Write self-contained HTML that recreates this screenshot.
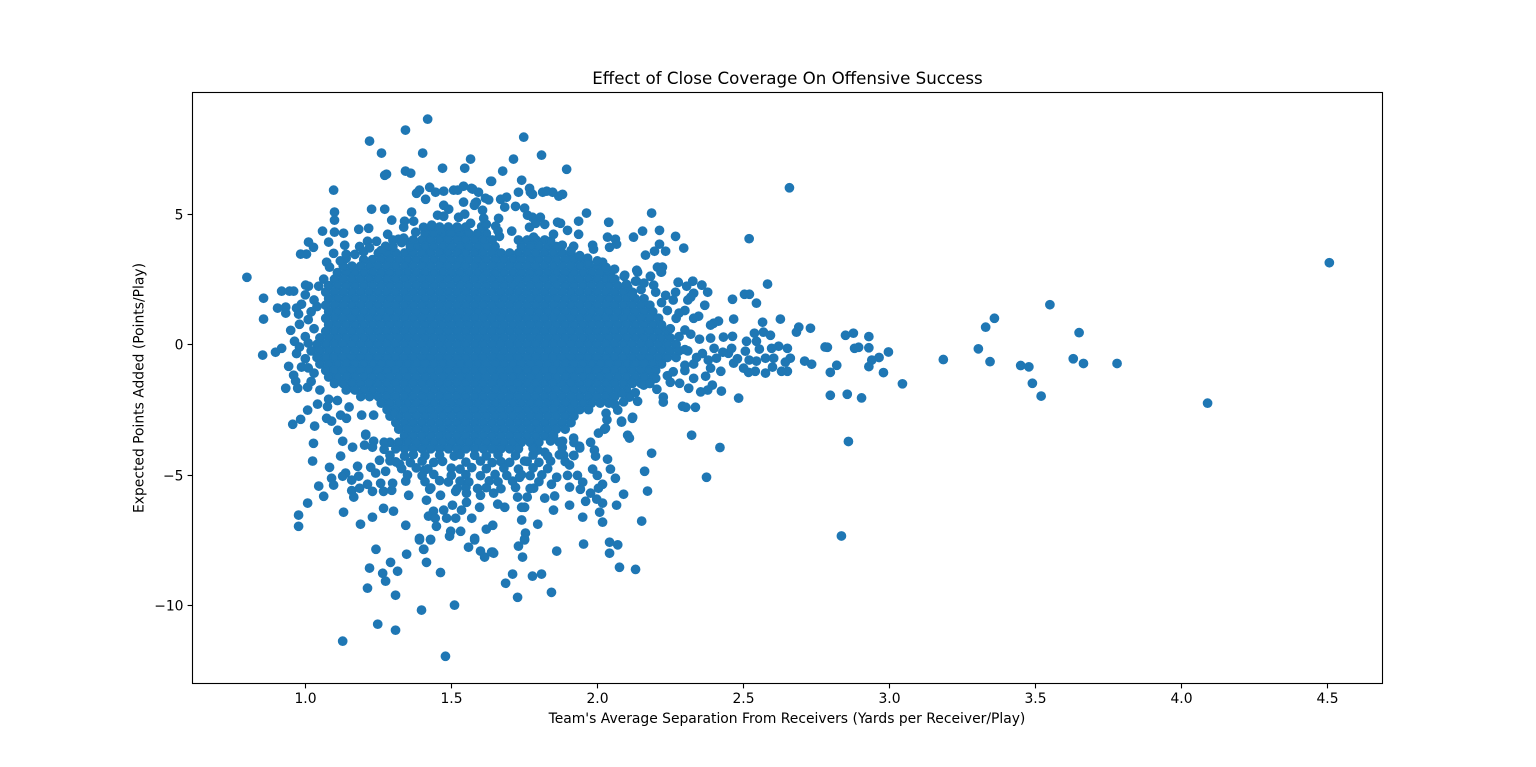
<!DOCTYPE html>
<html lang="en">
<head>
<meta charset="utf-8">
<title>Effect of Close Coverage On Offensive Success</title>
<style>
html,body{margin:0;padding:0;background:#fff;width:1536px;height:767px;overflow:hidden}
svg{display:block}
text{font-family:"DejaVu Sans","Liberation Sans",sans-serif;fill:#000}
</style>
</head>
<body>
<svg id="chart" width="1536" height="767" viewBox="0 0 1536 767" xmlns="http://www.w3.org/2000/svg">
<rect x="0" y="0" width="1536" height="767" fill="#fff"/>
<rect x="192.5" y="92.5" width="1190" height="591" fill="#fff"/>
<g id="points"></g>
<rect x="192.5" y="92.5" width="1190" height="591" fill="none" stroke="#000" stroke-width="1.11"/>
<g id="xticks"></g>
<g id="yticks"></g>
<text x="787.5" y="84" font-size="16.67" text-anchor="middle">Effect of Close Coverage On Offensive Success</text>
<text x="787" y="723" font-size="13.89" text-anchor="middle">Team's Average Separation From Receivers (Yards per Receiver/Play)</text>
<text transform="translate(143.5,388) rotate(-90)" font-size="13.89" text-anchor="middle">Expected Points Added (Points/Play)</text>
</svg>
<script>
const xTickValues = [1.0, 1.5, 2.0, 2.5, 3.0, 3.5, 4.0, 4.5];
const xTickLabels = ["1.0", "1.5", "2.0", "2.5", "3.0", "3.5", "4.0", "4.5"];
const yTickValues = [5, 0, -5, -10];
const yTickLabels = ["5", "0", "\u22125", "\u221210"];

const coreRowY = [4.5,4.25,4,3.75,3.5,3.25,3,2.75,2.5,2.25,2,1.75,1.5,1.25,1,0.75,0.5,0.25,0,-0.25,-0.5,-0.75,-1,-1.25,-1.5,-1.75,-2,-2.25,-2.5,-2.75,-3,-3.25,-3.5,-3.75,-4];
const coreRowX = [
[1.43,1.46,1.49,1.52,1.55],
[1.41,1.44,1.47,1.5,1.53,1.56,1.59,1.62],
[1.34,1.37,1.4,1.43,1.46,1.49,1.52,1.55,1.58,1.61,1.64,1.73,1.76,1.79,1.82],
[1.38,1.41,1.44,1.47,1.5,1.53,1.56,1.59,1.62,1.65,1.74,1.77,1.8,1.83,1.86],
[1.25,1.28,1.31,1.34,1.37,1.4,1.43,1.46,1.49,1.52,1.55,1.58,1.61,1.64,1.67,1.7,1.73,1.76,1.79,1.82,1.85,1.88,1.91],
[1.2,1.23,1.26,1.29,1.32,1.35,1.38,1.41,1.44,1.47,1.5,1.53,1.56,1.59,1.62,1.65,1.68,1.71,1.74,1.77,1.8,1.83,1.86,1.89,1.92,1.95],
[1.16,1.19,1.22,1.25,1.28,1.31,1.34,1.37,1.4,1.43,1.46,1.49,1.52,1.55,1.58,1.61,1.64,1.67,1.7,1.73,1.76,1.79,1.82,1.85,1.88,1.91,1.94,1.97,2],
[1.11,1.14,1.17,1.2,1.23,1.26,1.29,1.32,1.35,1.38,1.41,1.44,1.47,1.5,1.53,1.56,1.59,1.62,1.65,1.68,1.71,1.74,1.77,1.8,1.83,1.86,1.89,1.92,1.95,1.98,2.01,2.04],
[1.1,1.13,1.16,1.19,1.22,1.25,1.28,1.31,1.34,1.37,1.4,1.43,1.46,1.49,1.52,1.55,1.58,1.61,1.64,1.67,1.7,1.73,1.76,1.79,1.82,1.85,1.88,1.91,1.94,1.97,2,2.03,2.06],
[1.08,1.11,1.14,1.17,1.2,1.23,1.26,1.29,1.32,1.35,1.38,1.41,1.44,1.47,1.5,1.53,1.56,1.59,1.62,1.65,1.68,1.71,1.74,1.77,1.8,1.83,1.86,1.89,1.92,1.95,1.98,2.01,2.04,2.07,2.1],
[1.07,1.1,1.13,1.16,1.19,1.22,1.25,1.28,1.31,1.34,1.37,1.4,1.43,1.46,1.49,1.52,1.55,1.58,1.61,1.64,1.67,1.7,1.73,1.76,1.79,1.82,1.85,1.88,1.91,1.94,1.97,2,2.03,2.06,2.09,2.12],
[1.08,1.11,1.14,1.17,1.2,1.23,1.26,1.29,1.32,1.35,1.38,1.41,1.44,1.47,1.5,1.53,1.56,1.59,1.62,1.65,1.68,1.71,1.74,1.77,1.8,1.83,1.86,1.89,1.92,1.95,1.98,2.01,2.04,2.07,2.1,2.13,2.16],
[1.07,1.1,1.13,1.16,1.19,1.22,1.25,1.28,1.31,1.34,1.37,1.4,1.43,1.46,1.49,1.52,1.55,1.58,1.61,1.64,1.67,1.7,1.73,1.76,1.79,1.82,1.85,1.88,1.91,1.94,1.97,2,2.03,2.06,2.09,2.12,2.15,2.18],
[1.08,1.11,1.14,1.17,1.2,1.23,1.26,1.29,1.32,1.35,1.38,1.41,1.44,1.47,1.5,1.53,1.56,1.59,1.62,1.65,1.68,1.71,1.74,1.77,1.8,1.83,1.86,1.89,1.92,1.95,1.98,2.01,2.04,2.07,2.1,2.13,2.16,2.19],
[1.07,1.1,1.13,1.16,1.19,1.22,1.25,1.28,1.31,1.34,1.37,1.4,1.43,1.46,1.49,1.52,1.55,1.58,1.61,1.64,1.67,1.7,1.73,1.76,1.79,1.82,1.85,1.88,1.91,1.94,1.97,2,2.03,2.06,2.09,2.12,2.15,2.18,2.21],
[1.08,1.11,1.14,1.17,1.2,1.23,1.26,1.29,1.32,1.35,1.38,1.41,1.44,1.47,1.5,1.53,1.56,1.59,1.62,1.65,1.68,1.71,1.74,1.77,1.8,1.83,1.86,1.89,1.92,1.95,1.98,2.01,2.04,2.07,2.1,2.13,2.16,2.19,2.22],
[1.07,1.1,1.13,1.16,1.19,1.22,1.25,1.28,1.31,1.34,1.37,1.4,1.43,1.46,1.49,1.52,1.55,1.58,1.61,1.64,1.67,1.7,1.73,1.76,1.79,1.82,1.85,1.88,1.91,1.94,1.97,2,2.03,2.06,2.09,2.12,2.15,2.18,2.21,2.24],
[1.05,1.08,1.11,1.14,1.17,1.2,1.23,1.26,1.29,1.32,1.35,1.38,1.41,1.44,1.47,1.5,1.53,1.56,1.59,1.62,1.65,1.68,1.71,1.74,1.77,1.8,1.83,1.86,1.89,1.92,1.95,1.98,2.01,2.04,2.07,2.1,2.13,2.16,2.19,2.22,2.25],
[1.04,1.07,1.1,1.13,1.16,1.19,1.22,1.25,1.28,1.31,1.34,1.37,1.4,1.43,1.46,1.49,1.52,1.55,1.58,1.61,1.64,1.67,1.7,1.73,1.76,1.79,1.82,1.85,1.88,1.91,1.94,1.97,2,2.03,2.06,2.09,2.12,2.15,2.18,2.21,2.24,2.27],
[1.02,1.05,1.08,1.11,1.14,1.17,1.2,1.23,1.26,1.29,1.32,1.35,1.38,1.41,1.44,1.47,1.5,1.53,1.56,1.59,1.62,1.65,1.68,1.71,1.74,1.77,1.8,1.83,1.86,1.89,1.92,1.95,1.98,2.01,2.04,2.07,2.1,2.13,2.16,2.19,2.22,2.25,2.28,2.31],
[1.04,1.07,1.1,1.13,1.16,1.19,1.22,1.25,1.28,1.31,1.34,1.37,1.4,1.43,1.46,1.49,1.52,1.55,1.58,1.61,1.64,1.67,1.7,1.73,1.76,1.79,1.82,1.85,1.88,1.91,1.94,1.97,2,2.03,2.06,2.09,2.12,2.15,2.18,2.21,2.24,2.27],
[1.05,1.08,1.11,1.14,1.17,1.2,1.23,1.26,1.29,1.32,1.35,1.38,1.41,1.44,1.47,1.5,1.53,1.56,1.59,1.62,1.65,1.68,1.71,1.74,1.77,1.8,1.83,1.86,1.89,1.92,1.95,1.98,2.01,2.04,2.07,2.1,2.13,2.16,2.19,2.22],
[1.07,1.1,1.13,1.16,1.19,1.22,1.25,1.28,1.31,1.34,1.37,1.4,1.43,1.46,1.49,1.52,1.55,1.58,1.61,1.64,1.67,1.7,1.73,1.76,1.79,1.82,1.85,1.88,1.91,1.94,1.97,2,2.03,2.06,2.09,2.12,2.15,2.18,2.2],
[1.08,1.11,1.14,1.17,1.2,1.23,1.26,1.29,1.32,1.35,1.38,1.41,1.44,1.47,1.5,1.53,1.56,1.59,1.62,1.65,1.68,1.71,1.74,1.77,1.8,1.83,1.86,1.89,1.92,1.95,1.98,2.01,2.04,2.07,2.1,2.13,2.16,2.19],
[1.1,1.13,1.16,1.19,1.22,1.25,1.28,1.31,1.34,1.37,1.4,1.43,1.46,1.49,1.52,1.55,1.58,1.61,1.64,1.67,1.7,1.73,1.76,1.79,1.82,1.85,1.88,1.91,1.94,1.97,2,2.03,2.06,2.09,2.12,2.15],
[1.14,1.17,1.2,1.23,1.26,1.29,1.32,1.35,1.38,1.41,1.44,1.47,1.5,1.53,1.56,1.59,1.62,1.65,1.68,1.71,1.74,1.77,1.8,1.83,1.86,1.89,1.92,1.95,1.98,2.01,2.04,2.07,2.1],
[1.19,1.22,1.25,1.28,1.31,1.34,1.37,1.4,1.43,1.46,1.49,1.52,1.55,1.58,1.61,1.64,1.67,1.7,1.73,1.76,1.79,1.82,1.85,1.88,1.91,1.94,1.97,2,2.03,2.06],
[1.26,1.29,1.32,1.35,1.38,1.41,1.44,1.47,1.5,1.53,1.56,1.59,1.62,1.65,1.68,1.71,1.74,1.77,1.8,1.83,1.86,1.89,1.92,1.95,1.98,2.01,2.04],
[1.28,1.31,1.34,1.37,1.4,1.43,1.46,1.49,1.52,1.55,1.58,1.61,1.64,1.67,1.7,1.73,1.76,1.79,1.82,1.85,1.88,1.91,1.94,1.97],
[1.29,1.32,1.35,1.38,1.41,1.44,1.47,1.5,1.53,1.56,1.59,1.62,1.65,1.68,1.71,1.74,1.77,1.8,1.83,1.86,1.89,1.92],
[1.31,1.34,1.37,1.4,1.43,1.46,1.49,1.52,1.55,1.58,1.61,1.64,1.67,1.7,1.73,1.76,1.79,1.82,1.85,1.88,1.91],
[1.32,1.35,1.38,1.41,1.44,1.47,1.5,1.53,1.56,1.59,1.62,1.65,1.68,1.71,1.74,1.77,1.8,1.83,1.86,1.89],
[1.34,1.37,1.4,1.43,1.46,1.49,1.52,1.55,1.58,1.61,1.64,1.67,1.7,1.73,1.76,1.79,1.82,1.85],
[1.29,1.32,1.35,1.38,1.41,1.44,1.47,1.5,1.53,1.56,1.59,1.62,1.65,1.68,1.71,1.74,1.77,1.8],
[1.31,1.34,1.37,1.4,1.43,1.46,1.49,1.52,1.55,1.58,1.61,1.64,1.67,1.7,1.73]
];

const upperLeftPlays = [[1.419,8.63],[1.343,8.21],[1.22,7.79],[1.261,7.33],[1.402,7.33],[1.566,7.1],[1.47,6.75],[1.546,6.75],[1.343,6.64],[1.361,6.56],[1.278,6.52],[1.272,6.48],[1.097,5.91],[1.635,6.25],[0.8,2.57],[1.426,6.02],[1.391,5.91],[1.381,5.79],[1.412,5.56],[1.446,5.83],[1.474,5.87],[1.508,5.91],[1.522,5.91],[1.542,6.06],[1.569,5.98],[1.593,5.83],[1.617,5.6],[1.542,5.45],[1.586,5.45],[1.579,5.33],[1.474,5.33],[1.491,5.18],[1.453,4.95],[1.474,4.91],[1.525,4.87],[1.546,4.99],[1.227,5.18],[1.272,5.18],[1.364,5.07],[1.296,4.76],[1.34,4.72],[1.371,4.72],[1.337,4.49],[1.1,5.07],[1.1,4.76],[1.059,4.34],[1.1,4.3],[1.131,4.26],[1.183,4.41],[1.217,4.45],[1.282,4.22],[1.011,3.92],[1.028,3.72],[1.08,3.92],[1.135,3.8],[1.097,3.49],[0.984,3.46],[1.004,3.46],[1.073,3.15],[1.083,2.96],[1.063,2.5],[1.001,2.27],[1.011,2.23],[0.919,2.04],[0.946,2.04],[0.96,2.04],[1.046,2.23],[1.186,3.75],[1.213,3.95],[1.244,3.95],[1.275,3.76],[1.319,4.03],[1.337,4.07],[1.378,4.3],[1.405,4.49],[1.433,4.57],[1.46,4.41],[1.525,4.45],[1.566,4.64],[1.607,5.14],[1.611,4.83],[1.604,4.51],[1.14,3.3],[1.17,3.45],[1.13,3],[1.3,4],[1.12,3.2],[1.14,3.45],[1.2,3.55],[1.22,3.7],[1.26,3.6],[1.3,3.75],[1.33,3.9],[1.36,3.75]];

const upperRightPlays = [[1.748,7.94],[1.809,7.25],[1.713,7.1],[1.895,6.71],[1.676,6.64],[1.638,6.25],[1.741,6.29],[1.73,5.83],[1.768,5.98],[1.771,5.83],[1.778,5.75],[1.813,5.83],[1.827,5.87],[1.847,5.83],[1.868,5.68],[1.881,5.75],[1.573,5.95],[1.669,5.56],[1.689,5.64],[1.683,5.26],[1.72,5.29],[1.751,5.22],[1.761,4.95],[1.778,4.87],[1.805,4.87],[1.82,4.6],[1.768,4.49],[1.789,4.64],[1.864,4.68],[1.874,4.64],[1.898,4.37],[1.936,4.72],[1.963,5.03],[2.039,4.68],[2.186,5.03],[2.155,4.34],[2.213,4.37],[2.268,4.14],[2.296,3.69],[2.124,4.11],[2.035,4.11],[2.062,4.03],[2.066,3.84],[2.042,3.72],[2.213,3.84],[2.196,3.57],[2.234,3.57],[2.165,3.42],[2.206,2.96],[2.223,2.96],[2.22,2.77],[2.182,2.61],[2.277,2.38],[2.327,2.42],[2.358,2.27],[2.135,2.84],[2.094,2.65],[2.131,2.42],[2.104,2.19],[2.059,2.88],[2.018,3.15],[1.967,3.3],[1.984,3.8],[1.987,3.65],[1.936,4.22],[1.919,3.76],[1.85,4.22],[1.782,4.11],[1.707,4.34],[1.665,4.14],[1.662,4.83],[1.652,4.53],[1.628,5.54],[1.582,5.42],[1.84,3.95],[1.88,3.8],[1.91,3.6],[1.94,3.4],[1.97,3.1],[2,3.2],[2.03,2.95],[1.62,4.6],[1.66,4.35]];

const rightTailPlays = [[2.583,2.31],[2.504,1.92],[2.521,1.92],[2.463,1.73],[2.545,1.58],[2.378,2],[2.358,2.27],[2.327,2.42],[2.277,2.38],[2.306,2.23],[2.268,2],[2.33,1.96],[2.32,1.81],[2.31,1.7],[2.368,1.5],[2.467,0.97],[2.415,0.89],[2.398,0.81],[2.388,0.74],[2.566,0.85],[2.627,0.97],[2.69,0.66],[2.682,0.47],[2.73,0.62],[2.85,0.35],[2.877,0.43],[2.881,-0.15],[2.895,-0.11],[2.788,-0.11],[2.82,-0.8],[2.798,-1.07],[2.798,-1.95],[2.856,-1.91],[2.905,-2.05],[2.71,-0.64],[2.734,-0.76],[2.651,-0.15],[2.661,-0.53],[2.644,-0.68],[2.651,-1.03],[2.631,-1.03],[2.6,-0.87],[2.604,-0.53],[2.621,-0.07],[2.597,-0.15],[2.593,0.35],[2.569,0.47],[2.538,0.43],[2.511,0.12],[2.545,0.12],[2.555,-0.18],[2.507,-0.26],[2.576,-0.53],[2.545,-0.64],[2.576,-1.1],[2.541,-1.03],[2.518,-1.07],[2.501,-0.91],[2.463,0.31],[2.432,0.28],[2.388,0.24],[2.35,0.2],[2.32,0.39],[2.347,1.08],[2.33,1],[2.484,-2.06],[2.425,-1.79],[2.394,-1.56],[2.378,-1.75],[2.354,-1.82],[2.33,-1.3],[2.371,-1.22],[2.388,-0.91],[2.423,-1.03],[2.408,-0.53],[2.449,-0.34],[2.467,-0.72],[2.313,-1.68],[2.282,-1.49],[2.226,-2.21],[2.226,-2.02],[2.204,-1.72],[2.159,-1.56],[2.138,-2.18],[2.11,-2.02],[2.085,-1.87],[2.292,-2.37],[2.303,-2.41],[2.336,-2.41],[2.07,-2.52],[2.121,-2.79],[2.083,-2.94],[2.104,-3.48],[2.323,-3.48],[2.03,-2.64],[2.033,-2.89],[2.025,-3.25],[2.182,2.61],[2.218,2.77],[2.092,2.61],[2.134,2.42],[2.138,2.77],[2.193,2.27],[2.234,1.88],[2.3,-0.2],[2.34,-0.5],[2.3,-0.8],[2.26,-1.05],[2.24,-1.2],[2.3,-1],[2.33,-0.75],[2.36,-0.35],[2.4,-0.15],[2.38,-0.6],[2.28,0.3],[2.25,0.6],[2.3,0.55],[2.27,1],[2.24,1.3],[2.3,1.3],[2.22,1.6],[2.26,1.7],[2.2,2],[2.15,2.1],[2.1,2.3],[2.16,2.35],[2.12,1.9],[2.05,2.55],[2.28,1.2],[2.43,-0.3],[2.48,-0.55],[2.52,-0.6],[2.46,-0.15],[2.2,-1.3],[2.18,-1.5],[2.25,-1.45],[2.13,-1.85],[2.09,-2.2],[2.06,-2.3]];

const leftEdgePlays = [[0.857,1.77],[0.857,0.97],[0.854,-0.41],[0.905,1.39],[0.933,1.43],[0.933,1.2],[0.987,1.54],[0.97,1.39],[0.977,1.16],[0.98,0.77],[0.95,0.54],[0.963,0.12],[0.919,-0.15],[0.898,-0.3],[0.943,-0.84],[0.96,-1.18],[0.987,-0.87],[0.967,-1.41],[0.933,-1.68],[0.974,-1.68],[1.008,-1.64],[1.042,-2.29],[1.008,-2.52],[0.984,-2.87],[0.957,-3.06],[1.073,-2.83],[1.09,-2.94],[1.121,-2.71],[1.141,-2.83],[1.076,-2.38],[1.207,-3.44],[1.193,-2.71],[1.234,-2.71],[1.303,-2.64],[1,1.9],[1.03,1.7],[1.02,1.25],[1.04,1.45],[1.01,0.95],[1.03,0.6],[1,0.3],[1.01,0.05],[0.98,-0.1],[0.97,-0.35],[1,-0.55],[1.01,-0.9],[1.03,-1.1],[1.02,-1.42],[1.05,-1.75],[1.08,-2.1],[1.11,-2.15],[1.15,-2.4]];

const lowerLeftPlays = [[1.032,-3.13],[1.111,-3.29],[1.207,-3.48],[1.028,-3.79],[1.128,-3.71],[1.162,-3.94],[1.203,-3.86],[1.234,-3.71],[1.23,-3.94],[1.025,-4.47],[1.121,-4.28],[1.083,-4.71],[1.179,-4.67],[1.224,-4.71],[1.241,-4.93],[1.138,-4.93],[1.128,-5.05],[1.09,-5.13],[1.097,-5.39],[1.046,-5.43],[1.063,-5.82],[1.008,-6.08],[0.977,-6.54],[0.977,-6.97],[1.131,-6.43],[1.189,-6.89],[1.23,-6.62],[1.268,-6.28],[1.302,-6.39],[1.344,-6.93],[1.159,-5.2],[1.183,-5.05],[1.159,-5.6],[1.166,-5.85],[1.186,-5.51],[1.213,-5.36],[1.23,-5.63],[1.268,-5.63],[1.296,-5.59],[1.299,-5.32],[1.258,-5.32],[1.275,-4.86],[1.254,-4.44],[1.29,-4.46],[1.323,-4.59],[1.344,-5.24],[1.354,-5.78],[1.408,-4.82],[1.426,-5.55],[1.415,-5.97],[1.439,-6.39],[1.422,-6.58],[1.445,-6.66],[1.449,-6.97],[1.391,-7.43],[1.429,-7.47],[1.405,-7.85],[1.347,-8.04],[1.415,-8.35],[1.474,-6.35],[1.504,-6.16],[1.535,-6.35],[1.484,-6.66],[1.515,-6.66],[1.57,-6.66],[1.498,-7.16],[1.532,-7.16],[1.494,-7.35],[1.58,-7.43],[1.559,-7.77],[1.6,-7.92],[1.614,-8.15],[1.642,-7.96],[1.62,-7.08],[1.642,-6.93],[1.597,-6.24],[1.552,-6.05],[1.552,-5.7],[1.6,-5.78],[1.463,-5.78],[1.515,-5.63]];

const lowerRightPlays = [[2.186,-4.17],[2.11,-3.59],[1.977,-3.75],[1.99,-4.05],[1.994,-4.28],[2.035,-4.4],[2.045,-4.78],[2.062,-5.13],[1.984,-4.78],[2,-5.02],[2.162,-4.86],[2.172,-5.62],[2.374,-5.09],[2.018,-5.36],[2.004,-5.51],[2.09,-5.74],[2.066,-6.16],[2.018,-6.08],[1.998,-5.93],[2.008,-6.43],[2.018,-6.81],[2.152,-6.77],[1.95,-6.62],[1.96,-6.01],[1.977,-5.7],[1.942,-5.55],[1.905,-5.47],[1.898,-5.02],[1.932,-5.02],[1.95,-5.28],[1.84,-4.47],[1.861,-5.09],[1.843,-5.36],[1.82,-5.89],[1.854,-5.81],[1.85,-6.35],[1.905,-6.16],[1.796,-6.89],[1.741,-6.73],[1.754,-7.23],[1.751,-7.46],[1.73,-7.73],[1.744,-8.15],[1.861,-7.92],[1.953,-7.65],[2.042,-7.58],[2.07,-7.68],[2.042,-8],[1.741,-6.24],[1.751,-6.24],[1.659,-6.12],[1.683,-6.24],[1.727,-5.85],[1.76,-5.85],[1.782,-5.51],[1.734,-5.09],[1.645,-5.7],[1.905,-4.62],[1.885,-4.25],[1.919,-4.25],[1.939,-3.9],[1.881,-3.71],[1.919,-3.59],[1.796,-4.05],[1.82,-4.13],[1.751,-4.47],[2.004,-3.4],[2.028,-3.21],[2.083,-2.98],[2.12,-2.83]];

const lowerBandPlays = [[1.29,-4.25],[1.34,-4.28],[1.37,-4.22],[1.41,-4.26],[1.46,-4.24],[1.51,-4.28],[1.53,-4.22],[1.58,-4.25],[1.62,-4.27],[1.66,-4.23],[1.72,-4.26],[1.78,-4.24],[1.83,-4.28],[1.87,-4.23],[1.92,-4.26],[1.31,-4.5],[1.36,-4.53],[1.4,-4.47],[1.44,-4.52],[1.47,-4.48],[1.55,-4.51],[1.6,-4.47],[1.64,-4.53],[1.67,-4.49],[1.7,-4.52],[1.76,-4.48],[1.8,-4.52],[1.89,-4.49],[1.33,-4.76],[1.38,-4.73],[1.42,-4.77],[1.5,-4.74],[1.53,-4.78],[1.57,-4.72],[1.62,-4.76],[1.68,-4.74],[1.73,-4.78],[1.78,-4.73],[1.83,-4.76],[1.35,-5],[1.4,-5.03],[1.44,-4.98],[1.5,-5.02],[1.55,-4.99],[1.6,-5.03],[1.65,-4.98],[1.69,-5.02],[1.74,-4.99],[1.77,-5.03],[1.81,-5],[1.41,-5.26],[1.46,-5.22],[1.49,-5.27],[1.53,-5.24],[1.56,-5.27],[1.63,-5.23],[1.66,-5.26],[1.71,-5.24],[1.8,-5.26],[1.43,-5.5],[1.52,-5.53],[1.55,-5.48],[1.59,-5.52],[1.62,-5.49],[1.67,-5.53],[1.72,-5.48],[1.77,-5.52],[1.84,-3.7],[1.88,-3.95],[1.78,-3.98],[1.27,-3.75],[1.27,-4.02],[1.92,-3.76],[1.94,-3.97],[1.87,-3.74]];

const deepLossPlays = [[1.242,-7.85],[1.292,-8.35],[1.22,-8.57],[1.265,-8.77],[1.316,-8.69],[1.275,-9.07],[1.463,-8.74],[1.213,-9.34],[1.309,-9.61],[1.398,-10.18],[1.511,-9.99],[1.248,-10.72],[1.309,-10.95],[1.128,-11.37],[1.48,-11.95],[1.406,-7.85],[1.638,-7.96],[1.645,-8],[1.71,-8.8],[1.686,-9.15],[1.778,-8.88],[1.809,-8.8],[1.727,-9.69],[1.843,-9.5],[2.076,-8.54],[2.131,-8.62],[1.391,-7.49],[1.429,-7.49],[1.58,-7.49],[1.751,-7.49]];

const farOutlierPlays = [[2.658,6],[2.52,4.05],[4.507,3.13],[4.09,-2.25],[3.55,1.52],[3.36,1],[3.33,0.66],[3.65,0.45],[3.185,-0.58],[3.305,-0.17],[3.345,-0.66],[3.45,-0.81],[3.478,-0.86],[3.49,-1.49],[3.52,-1.98],[3.63,-0.55],[3.665,-0.73],[3.78,-0.73],[3.045,-1.51],[2.997,-0.29],[2.965,-0.5],[2.94,-0.6],[2.93,-0.85],[2.98,-1.08],[2.93,0.3],[2.86,-3.72],[2.836,-7.34],[2.42,-3.95],[2.93,-0.13],[2.78,-0.1]];

const SVG_NS = 'http://www.w3.org/2000/svg';
function xScale(v){ return 305.3 + (v - 1) * 292; }
function yScale(v){ return 344.4 - v * 26.1; }

const pointLayer = document.getElementById('points');
function addPoint(x, y){
  const c = document.createElementNS(SVG_NS, 'circle');
  
  
  c.setAttribute('cx', xScale(x).toFixed(2));
  c.setAttribute('cy', yScale(y).toFixed(2));
  c.setAttribute('r', '4.17');
  c.setAttribute('fill', '#1f77b4');
  c.setAttribute('stroke', '#1f77b4');
  c.setAttribute('stroke-width', '1.39');
  pointLayer.appendChild(c);
}
coreRowY.forEach(function(y, i){
  coreRowX[i].forEach(function(x){ addPoint(x, y); });
});
[upperLeftPlays, upperRightPlays, rightTailPlays, leftEdgePlays, lowerLeftPlays, lowerRightPlays, lowerBandPlays, deepLossPlays, farOutlierPlays].forEach(function(group){
  group.forEach(function(p){ addPoint(p[0], p[1]); });
});

const xTickLayer = document.getElementById('xticks');
xTickValues.forEach(function(v, i){
  const px = Math.round(xScale(v)) + 0.5;
  const line = document.createElementNS(SVG_NS, 'line');
  
  
  line.setAttribute('x1', px);
  line.setAttribute('x2', px);
  line.setAttribute('y1', 683.5);
  line.setAttribute('y2', 688.4);
  line.setAttribute('stroke', '#000');
  line.setAttribute('stroke-width', '1.11');
  xTickLayer.appendChild(line);
  const t = document.createElementNS(SVG_NS, 'text');
  
  
  t.setAttribute('x', px);
  t.setAttribute('y', 703);
  t.setAttribute('font-size', '13.89');
  t.setAttribute('text-anchor', 'middle');
  t.textContent = xTickLabels[i];
  xTickLayer.appendChild(t);
});

const yTickLayer = document.getElementById('yticks');
yTickValues.forEach(function(v, i){
  const py = Math.round(yScale(v)) + 0.5;
  const line = document.createElementNS(SVG_NS, 'line');
  
  
  line.setAttribute('x1', 187.6);
  line.setAttribute('x2', 192.5);
  line.setAttribute('y1', py);
  line.setAttribute('y2', py);
  line.setAttribute('stroke', '#000');
  line.setAttribute('stroke-width', '1.11');
  yTickLayer.appendChild(line);
  const t = document.createElementNS(SVG_NS, 'text');
  
  
  t.setAttribute('x', 183.5);
  t.setAttribute('y', py + 5);
  t.setAttribute('font-size', '13.89');
  t.setAttribute('text-anchor', 'end');
  t.textContent = yTickLabels[i];
  yTickLayer.appendChild(t);
});
</script>
</body>
</html>
